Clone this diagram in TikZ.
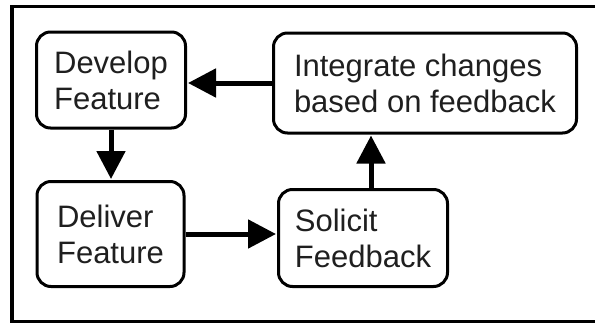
\documentclass[tikz,border=0pt]{standalone}
\usepackage{fontspec}
\setmainfont{Liberation Sans}
\usetikzlibrary{arrows.meta}
\begin{document}
\begin{tikzpicture}[x=1pt,y=-1pt,
  box/.style={draw=black, line width=3pt, rounded corners=14pt, align=left,
    inner sep=0pt, font=\fontsize{31}{36}\selectfont, text=black!88},
  arr/.style={line width=5pt, -{Triangle[length=28pt,width=28pt]}, shorten >=1pt}]
\useasboundingbox (0,0) rectangle (595,322);
\fill[white] (0,0) rectangle (595,322);
\draw[line width=3.5pt] (12,6.5) rectangle (598,322);
\node[box, minimum width=149pt, minimum height=96pt] (dev) at (111,80) {Develop\\Feature};
\node[box, minimum width=303pt, minimum height=100pt] (intg) at (425,83) {Integrate changes\\based on feedback};
\node[box, minimum width=147pt, minimum height=105pt] (del) at (110.5,234) {Deliver\\Feature};
\node[box, minimum width=169pt, minimum height=97pt] (sol) at (363,238) {Solicit\\Feedback};
\draw[arr] (intg.west) -- (intg.west -| dev.east);
\draw[arr] (dev.south) -- (dev.south |- del.north);
\draw[arr] (del.east) -- (del.east -| sol.west);
\draw[arr] ([xshift=8pt]sol.north) -- ([xshift=8pt]sol.north |- intg.south);
\end{tikzpicture}
\end{document}
